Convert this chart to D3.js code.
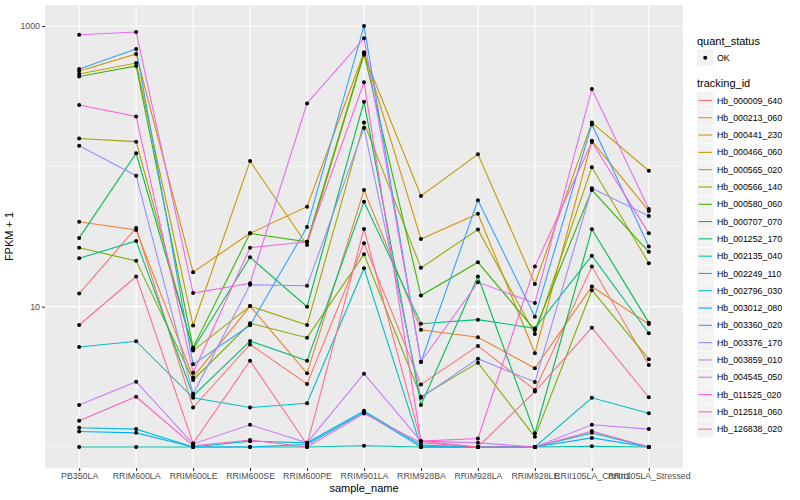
<!DOCTYPE html>
<html>
<head>
<meta charset="utf-8">
<script src="https://cdn.jsdelivr.net/npm/d3@7/dist/d3.min.js"></script>
<style>
body { margin: 0; background: #fff; }
text { font-family: "Liberation Sans", Arial, Helvetica, sans-serif; }
</style>
</head>
<body>
<svg id="chart" width="800" height="500"></svg>
<script>
let sampleNames = ["PB350LA", "RRIM600LA", "RRIM600LE", "RRIM600SE", "RRIM600PE", "RRIM901LA",
    "RRIM928BA", "RRIM928LA", "RRIM928LE", "RRII105LA_Control", "RRII105LA_Stressed"];

let trackingIds = ["Hb_000009_640", "Hb_000213_060", "Hb_000441_230", "Hb_000466_060", "Hb_000565_020",
    "Hb_000566_140", "Hb_000580_060", "Hb_000707_070", "Hb_001252_170", "Hb_002135_040",
    "Hb_002249_110", "Hb_002796_030", "Hb_003012_080", "Hb_003360_020", "Hb_003376_170",
    "Hb_003859_010", "Hb_004545_050", "Hb_011525_020", "Hb_012518_060", "Hb_126838_020"];

// FPKM + 1 per gene, same order as sampleNames
let hb_000009_640 = [12.4, 36.4, 1.91, 5.38, 2.81, 28.3, 2.79, 5.25, 2.55, 19.3, 3.84];
let hb_000213_060 = [40.3, 35.2, 3.13, 10.1, 3.35, 67.8, 6.85, 6.05, 3.64, 13.9, 7.53];
let hb_000441_230 = [478, 632, 17.6, 33.3, 51.6, 650, 30.3, 45.9, 4.65, 152, 48.1];
let hb_000466_060 = [455, 545, 7.35, 109, 27.5, 625, 61.5, 122, 14.5, 205, 93.1];
let hb_000565_020 = [158, 150, 4.86, 10.1, 7.40, 205, 18.9, 35.4, 6.39, 98.4, 20.4];
let hb_000566_140 = [26.3, 21.2, 3.00, 7.61, 6.01, 23.6, 2.28, 3.99, 1.18, 13.1, 4.22];
let hb_000580_060 = [437, 519, 5.10, 33.3, 29.0, 639, 12.0, 20.7, 6.82, 67.8, 24.6];
let hb_000707_070 = [30.9, 124, 4.97, 22.5, 10.0, 289, 1.99, 16.4, 1.25, 35.6, 7.69];
let hb_001252_170 = [22.1, 29.4, 2.32, 5.69, 4.12, 56.0, 7.56, 8.08, 7.01, 23.1, 6.46];
let hb_002135_040 = [1, 1, 1, 1, 1, 1.02, 1, 1, 1, 1.01, 1];
let hb_002249_110 = [5.16, 5.67, 2.24, 1.91, 2.05, 18.8, 1, 1, 1, 2.24, 1.74];
let hb_002796_030 = [1.37, 1.34, 1, 1.10, 1.07, 1.81, 1.03, 1, 1, 1.26, 1];
let hb_003012_080 = [1.29, 1.26, 1, 1, 1.04, 1.77, 1, 1, 1, 1.16, 1];
let hb_003360_020 = [494, 686, 3.88, 7.37, 37.0, 1000, 4.03, 57.3, 8.48, 199, 26.8];
let hb_003376_170 = [140, 85.8, 2.39, 14.3, 14.1, 188, 2.24, 4.26, 2.90, 69.7, 44.3];
let hb_003859_010 = [1.99, 2.92, 1.05, 1.44, 1.07, 3.33, 1.10, 1.07, 1, 1.44, 1.34];
let hb_004545_050 = [867, 906, 12.5, 14.7, 281, 817, 4.05, 14.9, 10.6, 356, 49.7];
let hb_011525_020 = [274, 227, 3.38, 26.3, 29.0, 397, 1.10, 1.15, 19.3, 149, 33.3];
let hb_012518_060 = [1.54, 2.28, 1.02, 1.12, 1, 1.73, 1.07, 1, 1, 1.30, 1];
let hb_126838_020 = [7.40, 16.4, 1.06, 4.12, 1.04, 35.8, 1.10, 1, 2.48, 7.08, 2.26];

let seriesValues = [hb_000009_640, hb_000213_060, hb_000441_230, hb_000466_060, hb_000565_020,
    hb_000566_140, hb_000580_060, hb_000707_070, hb_001252_170, hb_002135_040,
    hb_002249_110, hb_002796_030, hb_003012_080, hb_003360_020, hb_003376_170,
    hb_003859_010, hb_004545_050, hb_011525_020, hb_012518_060, hb_126838_020];

let quantStatus = ["OK"];
let yTicks = [10, 1000];
let yMinor = [1, 100];

// ggplot hue palette, 20 levels
let palette = ["#F8766D", "#EA8331", "#D89000", "#C09B00", "#A3A500", "#7CAE00", "#39B600", "#00BB4E",
    "#00BF7D", "#00C1A3", "#00BFC4", "#00BAE0", "#00B0F6", "#35A2FF", "#9590FF", "#C77CFF",
    "#E76BF3", "#FA62DB", "#FF62BC", "#FF6C91"];

let panel = { left: 45, right: 683, top: 5, bottom: 468 };

let svg = d3.select("#chart");

let x = d3.scalePoint()
    .domain(sampleNames)
    .range([panel.left, panel.right])
    .padding(0.6);

// log scale with the 5% expansion ggplot adds
let y = d3.scaleLog()
    .domain([Math.pow(10, -0.15), Math.pow(10, 3.15)])
    .range([panel.bottom, panel.top]);

let color = d3.scaleOrdinal().domain(trackingIds).range(palette);

// panel background
svg.append("rect")
    .attr("x", panel.left).attr("y", panel.top)
    .attr("width", panel.right - panel.left)
    .attr("height", panel.bottom - panel.top)
    .attr("fill", "#EBEBEB");

// grid
svg.append("g").selectAll("line")
    .data(yMinor).enter().append("line")
    .attr("x1", panel.left).attr("x2", panel.right)
    .attr("y1", d => y(d)).attr("y2", d => y(d))
    .attr("stroke", "#fff").attr("stroke-width", 0.55);

svg.append("g").selectAll("line")
    .data(yTicks).enter().append("line")
    .attr("x1", panel.left).attr("x2", panel.right)
    .attr("y1", d => y(d)).attr("y2", d => y(d))
    .attr("stroke", "#fff").attr("stroke-width", 1.1);

svg.append("g").selectAll("line")
    .data(sampleNames).enter().append("line")
    .attr("x1", d => x(d)).attr("x2", d => x(d))
    .attr("y1", panel.top).attr("y2", panel.bottom)
    .attr("stroke", "#fff").attr("stroke-width", 1.1);

// lines
let series = trackingIds.map(function (id, i) {
    return { id: id, values: seriesValues[i].map(function (v, j) { return { sample: sampleNames[j], value: v }; }) };
});

let line = d3.line()
    .x(d => x(d.sample))
    .y(d => y(d.value));

svg.append("g").selectAll("path")
    .data(series).enter().append("path")
    .attr("d", d => line(d.values))
    .attr("fill", "none")
    .attr("stroke", d => color(d.id))
    .attr("stroke-width", 1.1);

// points
let allPoints = series.flatMap(d => d.values);
svg.append("g").selectAll("circle")
    .data(allPoints).enter().append("circle")
    .attr("cx", d => x(d.sample))
    .attr("cy", d => y(d.value))
    .attr("r", 2)
    .attr("fill", "#000");

// axes
let yAxis = svg.append("g")
    .attr("transform", "translate(" + panel.left + ",0)")
    .call(d3.axisLeft(y).tickValues(yTicks).tickFormat(d3.format("d")).tickSize(3).tickPadding(2));
let xAxis = svg.append("g")
    .attr("transform", "translate(0," + panel.bottom + ")")
    .call(d3.axisBottom(x).tickSize(3).tickPadding(2));

[yAxis, xAxis].forEach(function (a) {
    a.select(".domain").remove();
    a.selectAll(".tick line").attr("stroke", "#333333").attr("stroke-width", 1.1);
    a.selectAll(".tick text").attr("fill", "#4D4D4D").attr("font-size", 8.8)
        .attr("font-family", "Liberation Sans, Arial, sans-serif");
});

// axis titles
svg.append("text")
    .attr("x", (panel.left + panel.right) / 2).attr("y", 492)
    .attr("text-anchor", "middle").attr("font-size", 11)
    .text("sample_name");

svg.append("text")
    .attr("transform", "translate(13," + (panel.top + panel.bottom) / 2 + ") rotate(-90)")
    .attr("text-anchor", "middle").attr("font-size", 11)
    .text("FPKM + 1");

// legends
let lg = svg.append("g").attr("transform", "translate(697,0)");

lg.append("text").attr("x", 0).attr("y", 45).attr("font-size", 11).text("quant_status");
let qs = lg.selectAll(".qs").data(quantStatus).enter().append("g")
    .attr("transform", (d, i) => "translate(0," + (49.5 + i * 17.3) + ")");
qs.append("rect").attr("width", 16.5).attr("height", 16.5).attr("fill", "#F2F2F2");
qs.append("circle").attr("cx", 8.25).attr("cy", 8.25).attr("r", 2).attr("fill", "#000");
qs.append("text").attr("x", 20).attr("y", 8.25).attr("dy", "0.35em").attr("font-size", 8.8).text(d => d);

lg.append("text").attr("x", 0).attr("y", 86.5).attr("font-size", 11).text("tracking_id");
let keys = lg.selectAll(".key").data(trackingIds).enter().append("g")
    .attr("transform", (d, i) => "translate(0," + (92.2 + i * 17.3) + ")");
keys.append("rect").attr("width", 16.5).attr("height", 16.5).attr("fill", "#F2F2F2");
keys.append("line")
    .attr("x1", 1.5).attr("x2", 15)
    .attr("y1", 8.25).attr("y2", 8.25)
    .attr("stroke", d => color(d)).attr("stroke-width", 1.1);
keys.append("text").attr("x", 20).attr("y", 8.25).attr("dy", "0.35em").attr("font-size", 8.8).text(d => d);
</script>
</body>
</html>
